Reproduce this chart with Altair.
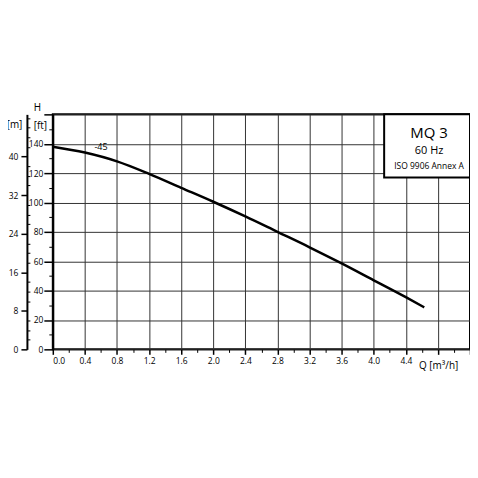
import altair as alt
import pandas as pd

# Pump curve MQ 3, 60 Hz
Q = [0.0, 0.4, 0.8, 1.2, 1.6, 2.0, 2.4, 2.8, 3.2, 3.6, 4.0, 4.4, 4.63]
H_FT = [138, 134, 128, 119.5, 110, 100.5, 90.5, 80, 69.5, 58.5, 47, 35.5, 28.6]

X_TICKS = [0.0, 0.4, 0.8, 1.2, 1.6, 2.0, 2.4, 2.8, 3.2, 3.6, 4.0, 4.4, 4.8, 5.2]
X_MINOR = [0.2, 0.6, 1.0, 1.4, 1.8, 2.2, 2.6, 3.0, 3.4, 3.8, 4.2, 4.6, 5.0]
FT_TICKS = [0, 20, 40, 60, 80, 100, 120, 140, 160]
FT_MINOR = [10, 30, 50, 70, 90, 110, 130, 150]
M_TICKS = [0, 8, 16, 24, 32, 40]
M_MINOR = [2, 4, 6, 10, 12, 14, 18, 20, 22, 26, 28, 30, 34, 36, 38, 42, 44, 46, 48]

BOX_Q = [4.13, 5.2]
BOX_H = [117, 160]
LABEL_TEXT = ["MQ 3", "60 Hz", "ISO 9906 Annex A", "-45"]
LABEL_Q = [4.69, 4.69, 4.69, 0.6]
LABEL_H = [147.5, 135, 124.5, 138]
LABEL_SIZE = [15, 11, 8.5, 9]

FT_PER_M = 3.28084
X_MAX = 5.2
FT_MAX = 160

FONT = "Open Sans"
W, H = 419, 236

df = pd.DataFrame({"Q": Q, "H": H_FT})
df["Hm"] = df["H"] / FT_PER_M

xs = alt.Scale(domain=[0, X_MAX], nice=False, zero=False)
ys = alt.Scale(domain=[0, FT_MAX], nice=False, zero=False)
ms = alt.Scale(domain=[0, FT_MAX / FT_PER_M], nice=False, zero=False)

curve = alt.Chart(df).mark_line(color="black", strokeWidth=2.5, interpolate="monotone").encode(
    x=alt.X("Q:Q", scale=xs, axis=alt.Axis(
        values=X_TICKS,
        labelExpr="datum.value > 4.5 ? '' : format(datum.value, '.1f')",
        grid=True, gridColor="#333333", gridWidth=1, gridOpacity=1,
        domain=False, tickSize=5, tickColor="black", tickWidth=1.5,
        labelFont=FONT, labelFontSize=8.5, labelColor="black", labelPadding=2,
        title="Q [m³/h]", titleX=387, titleY=16, titleAlign="center",
        titleBaseline="middle", titleFont=FONT, titleFontSize=10,
        titleFontWeight="normal", titleColor="black")),
    y=alt.Y("H:Q", scale=ys, axis=alt.Axis(
        orient="left",
        values=FT_TICKS,
        labelExpr="datum.value > 150 ? '' : datum.value",
        grid=True, gridColor="#333333", gridWidth=1, gridOpacity=1,
        domain=True, domainColor="black", domainWidth=2,
        tickSize=9, tickColor="black", tickWidth=1.5,
        labelFont=FONT, labelFontSize=8.5, labelColor="black", labelPadding=1,
        title="[ft]", titleAngle=0, titleX=-13, titleY=11, titleAlign="center",
        titleBaseline="middle", titleFont=FONT, titleFontSize=10,
        titleFontWeight="normal", titleColor="black")),
)

x_minor = alt.Chart(df).mark_point(opacity=0).encode(
    x=alt.X("Q:Q", scale=xs, axis=alt.Axis(
        orient="bottom",
        values=X_MINOR, labels=False, grid=False, domain=False,
        tickSize=3, tickColor="black", tickWidth=1, title=None)),
    y=alt.Y("H:Q", scale=ys, axis=None),
)

ft_minor = alt.Chart(df).mark_point(opacity=0).encode(
    x=alt.X("Q:Q", scale=xs, axis=None),
    y=alt.Y("H:Q", scale=ys, axis=alt.Axis(
        orient="left",
        values=FT_MINOR, labels=False, grid=False, domain=False,
        tickSize=4, tickColor="black", tickWidth=1,
        title="H", titleAngle=0, titleX=-16, titleY=-7, titleAlign="center",
        titleBaseline="middle", titleFont=FONT, titleFontSize=10,
        titleFontWeight="normal", titleColor="black")),
)

m_axis = alt.Chart(df).mark_point(opacity=0).encode(
    x=alt.X("Q:Q", scale=xs, axis=None),
    y=alt.Y("Hm:Q", scale=ms, axis=alt.Axis(
        orient="left", offset=26, values=M_TICKS, grid=False,
        domain=True, domainColor="black", domainWidth=2,
        tickSize=6, tickColor="black", tickWidth=1.5,
        labelFont=FONT, labelFontSize=8.5, labelColor="black", labelPadding=3,
        title="[m]", titleAngle=0, titleX=-13, titleY=10, titleAlign="center",
        titleBaseline="middle", titleFont=FONT, titleFontSize=10,
        titleFontWeight="normal", titleColor="black")),
)

m_minor = alt.Chart(df).mark_point(opacity=0).encode(
    x=alt.X("Q:Q", scale=xs, axis=None),
    y=alt.Y("Hm:Q", scale=ms, axis=alt.Axis(
        orient="right", offset=-445, values=M_MINOR, labels=False, grid=False,
        domain=False, tickSize=3, tickColor="black", tickWidth=1, title=None)),
)

box_df = pd.DataFrame({"q1": [BOX_Q[0]], "q2": [BOX_Q[1]], "h1": [BOX_H[0]], "h2": [BOX_H[1]]})
box = alt.Chart(box_df).mark_rect(fill="white", stroke="black", strokeWidth=2).encode(
    x=alt.X("q1:Q", scale=xs, axis=None), x2="q2",
    y=alt.Y("h1:Q", scale=ys, axis=None), y2="h2",
)

lab_df = pd.DataFrame({"Q": LABEL_Q, "H": LABEL_H, "t": LABEL_TEXT, "s": LABEL_SIZE})
labels = alt.Chart(lab_df).mark_text(font=FONT, color="black", align="center", baseline="middle").encode(
    x=alt.X("Q:Q", scale=xs, axis=None),
    y=alt.Y("H:Q", scale=ys, axis=None),
    text="t:N",
    size=alt.Size("s:Q", scale=None, legend=None),
)

chart = alt.layer(curve, x_minor, ft_minor, m_axis, m_minor, box, labels).resolve_scale(
    x="independent", y="independent"
).properties(
    width=W, height=H,
    autosize=alt.AutoSizeParams(type="none"),
    padding={"left": 45, "top": 106, "right": 0, "bottom": 40},
).configure_view(stroke="black", strokeWidth=2)

chart.save("out.html", embed_options={"renderer": "svg", "actions": False})
